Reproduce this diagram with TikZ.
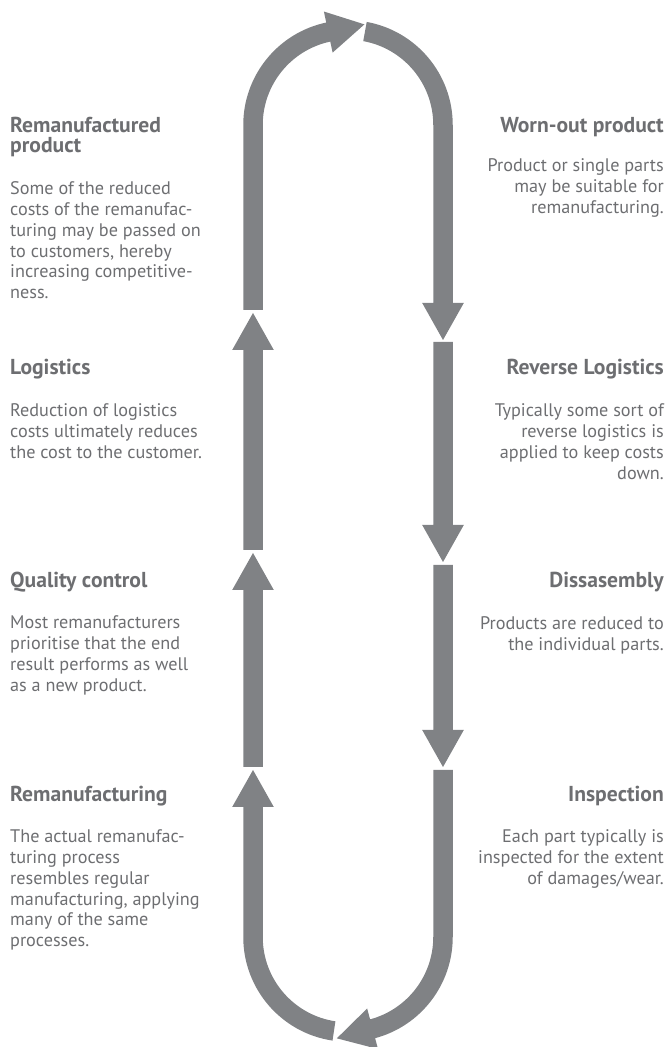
\documentclass[tikz,border=0pt]{standalone}
\usepackage{fontspec}
\setmainfont{PT Sans}
\usetikzlibrary{calc}
\definecolor{arrowgray}{RGB}{128,130,133}
\definecolor{textgray}{RGB}{109,110,113}
\tikzset{
  flow/.style={fill=arrowgray},
  headtxt/.style={inner sep=0pt, text=textgray, font=\fontsize{21.6}{20}\selectfont\bfseries},
  bodytxt/.style={inner sep=0pt, text=textgray, font=\fontsize{18.2}{20.7}\selectfont},
}
% straight arrow segments: #1 start y, #2 tip y
\newcommand\UpSeg[2]{%
  \fill[flow] (243.25,#1) -- (243.25,#2-37) -- (232.2,#2-37) -- (253,#2) -- (273.8,#2-37) -- (262.75,#2-37) -- (262.75,#1) -- cycle;}
\newcommand\DownSeg[2]{%
  \fill[flow] (433.25,#1) -- (452.75,#1) -- (452.75,#2+37) -- (463.8,#2+37) -- (443,#2) -- (422.2,#2+37) -- (433.25,#2+37) -- cycle;}
\begin{document}
\begin{tikzpicture}[x=1pt,y=1pt]
\useasboundingbox (0,0) rectangle (669,1047);
\coordinate (ct) at (348,922);
\coordinate (cb) at (348,110);

% ---------- right side (downwards) ----------
\fill[flow] ($(ct)+(79.7:104.75)$) arc[start angle=79.7,end angle=0,radius=104.75]
  -- (452.75,744) -- (463.8,744) -- (443,707) -- (422.2,744) -- (433.25,744)
  -- (433.25,922) arc[start angle=0,end angle=79.7,radius=85.25] -- cycle;
\DownSeg{705}{485}
\DownSeg{482}{280}
\fill[flow] (433.25,277) -- (452.75,277) -- (452.75,110)
  arc[start angle=0,end angle=-75,radius=104.75]
  -- ($(cb)+(-75:116)$) -- ($(cb)+(-75:95)+(-165:37)$) -- ($(cb)+(-75:74)$)
  -- ($(cb)+(-75:85.25)$) arc[start angle=-75,end angle=0,radius=85.25] -- cycle;

% ---------- left side (upwards) ----------
\fill[flow] ($(cb)+(-98.5:104.75)$) arc[start angle=-98.5,end angle=-180,radius=104.75]
  -- (243.25,240) -- (232.2,240) -- (253,277) -- (273.8,240) -- (262.75,240)
  -- (262.75,110) arc[start angle=-180,end angle=-98.5,radius=85.25] -- cycle;
\UpSeg{280}{494}
\UpSeg{497}{734}
\fill[flow] (243.25,737) -- (243.25,922)
  arc[start angle=180,end angle=102,radius=104.75]
  -- ($(ct)+(102:116)$) -- ($(ct)+(102:95)+(12:37)$) -- ($(ct)+(102:74)$)
  -- ($(ct)+(102:85.25)$) arc[start angle=102,end angle=180,radius=85.25]
  -- (262.75,737) -- cycle;

% ---------- left texts ----------
\node[headtxt,anchor=base west] (h1l) at (10,914) {\parbox[t]{230pt}{\raggedright Remanufactured\\product}};
\node[bodytxt,anchor=base west] (b1l) at (10,852) {\parbox[t]{230pt}{\raggedright Some of the reduced\\costs of the remanufac-\\turing may be passed on\\to customers, hereby\\increasing competitive-\\ness.}};
\node[headtxt,anchor=base west] (h2l) at (10,672) {\parbox[t]{230pt}{\raggedright Logistics}};
\node[bodytxt,anchor=base west] (b2l) at (10,630) {\parbox[t]{230pt}{\raggedright Reduction of logistics\\costs ultimately reduces\\the cost to the customer.}};
\node[headtxt,anchor=base west] (h3l) at (10,459) {\parbox[t]{230pt}{\raggedright Quality control}};
\node[bodytxt,anchor=base west] (b3l) at (10,418) {\parbox[t]{230pt}{\raggedright Most remanufacturers\\prioritise that the end\\result performs as well\\as a new product.}};
\node[headtxt,anchor=base west] (h4l) at (10,245) {\parbox[t]{230pt}{\raggedright Remanufacturing}};
\node[bodytxt,anchor=base west] (b4l) at (10,204) {\parbox[t]{230pt}{\raggedright The actual remanufac-\\turing process\\resembles regular\\manufacturing, applying\\many of the same\\processes.}};

% ---------- right texts ----------
\node[headtxt,anchor=base east] (h1r) at (664,914) {\parbox[t]{230pt}{\raggedleft Worn-out product}};
\node[bodytxt,anchor=base east] (b1r) at (664,875) {\parbox[t]{230pt}{\raggedleft Product or single parts\\may be suitable for\\remanufacturing.}};
\node[headtxt,anchor=base east] (h2r) at (664,672) {\parbox[t]{230pt}{\raggedleft Reverse Logistics}};
\node[bodytxt,anchor=base east] (b2r) at (664,630) {\parbox[t]{230pt}{\raggedleft Typically some sort of\\reverse logistics is\\applied to keep costs\\down.}};
\node[headtxt,anchor=base east] (h3r) at (664,459) {\parbox[t]{230pt}{\raggedleft Dissasembly}};
\node[bodytxt,anchor=base east] (b3r) at (664,417) {\parbox[t]{230pt}{\raggedleft Products are reduced to\\the individual parts.}};
\node[headtxt,anchor=base east] (h4r) at (664,245) {\parbox[t]{230pt}{\raggedleft Inspection}};
\node[bodytxt,anchor=base east] (b4r) at (664,204) {\parbox[t]{230pt}{\raggedleft Each part typically is\\inspected for the extent\\of damages/wear.}};
\end{tikzpicture}
\end{document}
